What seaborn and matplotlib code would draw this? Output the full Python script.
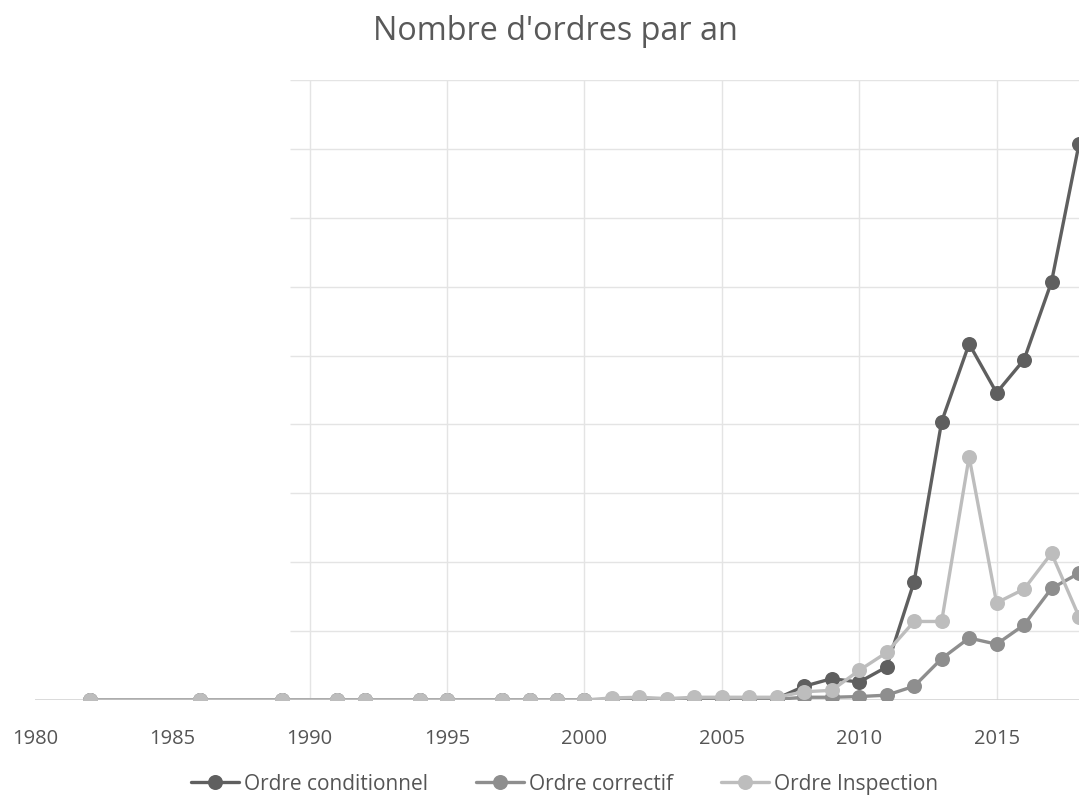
import matplotlib
matplotlib.use("Agg")
import matplotlib.pyplot as plt
import seaborn as sns
import pandas as pd

# Years with recorded orders
years = [1982, 1986, 1989, 1991, 1992, 1994, 1995, 1997, 1998, 1999, 2000,
         2001, 2002, 2003, 2004, 2005, 2006, 2007, 2008, 2009, 2010, 2011,
         2012, 2013, 2014, 2015, 2016, 2017, 2018]

# Number of orders per year, by order type
conditionnel = [0, 0, 0, 0, 0, 0, 0, 0, 0, 0, 0,
                0, 0, 0, 0, 0, 0, 2, 20, 31, 26, 48,
                172, 404, 517, 446, 494, 607, 807]
correctif = [0, 0, 0, 0, 0, 0, 0, 0, 0, 0, 0,
             0, 0, 0, 0, 0, 0, 1, 4, 4, 5, 7,
             20, 60, 90, 81, 109, 162, 184]
inspection = [0, 0, 0, 0, 0, 0, 0, 0, 0, 0, 0,
              3, 4, 2, 4, 4, 4, 4, 12, 14, 43, 69,
              114, 114, 353, 141, 161, 213, 121]

series_names = ["Ordre conditionnel", "Ordre correctif", "Ordre Inspection"]
series_values = [conditionnel, correctif, inspection]
series_colors = ["#5f5f5f", "#8e8e8e", "#bdbdbd"]

title = "Nombre d'ordres par an"
x_ticks = [1980, 1985, 1990, 1995, 2000, 2005, 2010, 2015]
y_grid = [100, 200, 300, 400, 500, 600, 700, 800, 900]

sns.set_theme(style="white")
plt.rcParams["font.family"] = ["Open Sans", "DejaVu Sans"]

fig = plt.figure(figsize=(10.79, 7.96), dpi=100)
ax = fig.add_axes([0.0324, 0.1206, 0.9676, 0.7789])

# light grid, faded out on the left part of the plot
ax.hlines(y_grid, 1989.3, 2020, colors="#e4e4e4", linewidth=1.0, zorder=0)
ax.vlines([t for t in x_ticks if t >= 1990], 0, 900, colors="#e4e4e4",
          linewidth=1.0, zorder=0)
ax.axhline(0, color="#d4d4d4", linewidth=1.2, zorder=1)

for name, vals, col in zip(series_names, series_values, series_colors):
    df = pd.DataFrame({"Année": years, "Ordres": vals})
    sns.lineplot(data=df, x="Année", y="Ordres", ax=ax, color=col,
                 linewidth=2.4, marker="o", markersize=10.8,
                 markeredgewidth=0, label=name, zorder=3)

ax.set_xlim(1980, 2018.0)
ax.set_ylim(0, 900)
ax.set_xticks(x_ticks)
ax.set_xticklabels([str(t) for t in x_ticks])
ax.set_yticks([])
ax.tick_params(axis="x", length=0, pad=21, labelsize=14.5, colors="#555555")
ax.set_xlabel("")
ax.set_ylabel("")
for s in ax.spines.values():
    s.set_visible(False)

handles, labels = ax.get_legend_handles_labels()
ax.get_legend().remove()
fig.legend(handles, labels, loc="lower center", bbox_to_anchor=(0.523, -0.022),
           ncol=3, frameon=False, fontsize=15, handlelength=2.3,
           handletextpad=0.25, columnspacing=2.3, labelcolor="#555555")

fig.text(0.515, 0.961, title, ha="center", va="center", fontsize=23.3,
         color="#595959")

fig.savefig("out.png", dpi=100)
